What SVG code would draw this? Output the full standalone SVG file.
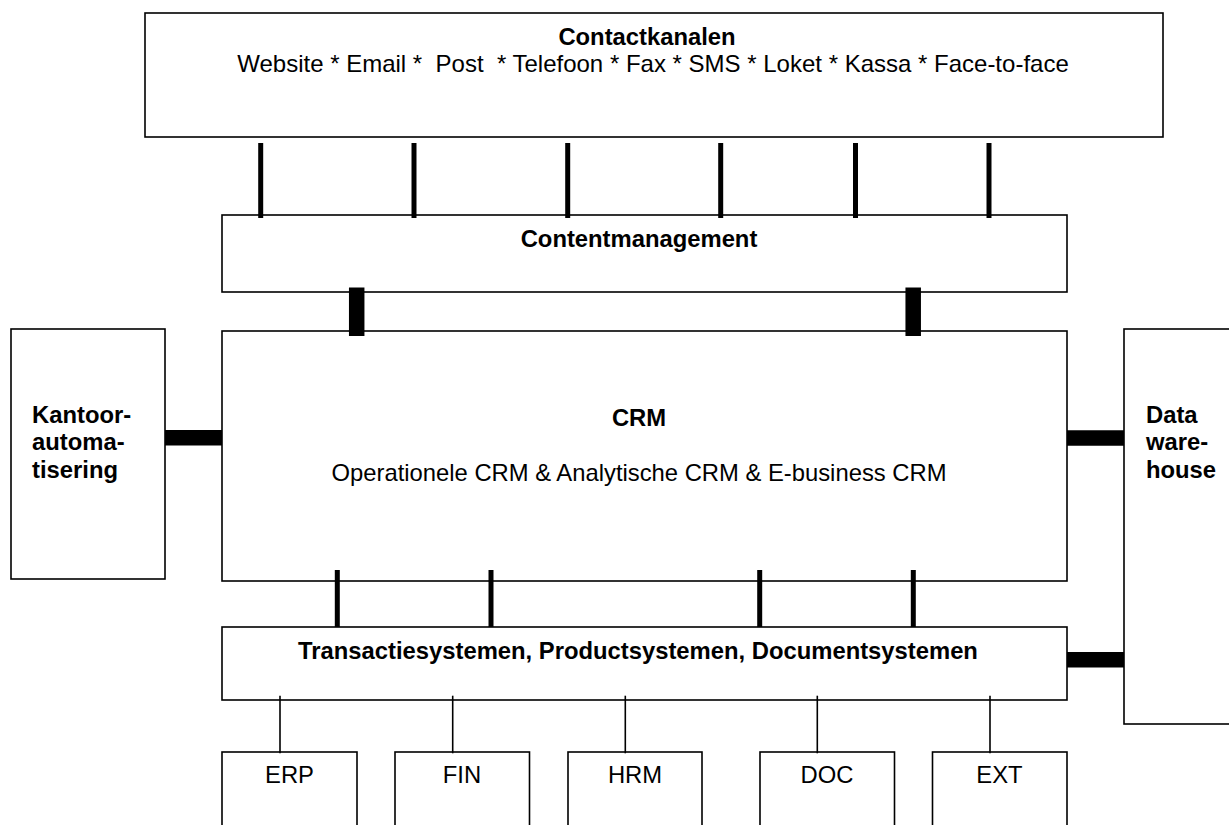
<svg xmlns="http://www.w3.org/2000/svg" width="1229" height="825" viewBox="0 0 1229 825">
<style>
.box{fill:#fff;stroke:#000;stroke-width:1.6}
.t{font-family:"Liberation Sans",Arial,Helvetica,sans-serif;font-size:23.8px;fill:#000}
.b{font-weight:bold}
.m{text-anchor:middle}
.c5{stroke:#000;stroke-width:5;fill:none}
.c15{stroke:#000;stroke-width:15.5;fill:none}
.c1{stroke:#000;stroke-width:1.6;fill:none}
</style>
<rect width="1229" height="825" fill="#fff"/>
<g id="contactkanalen">
<rect class="box" x="145" y="13" width="1018" height="124"/>
<text class="t b m" x="647" y="45">Contactkanalen</text>
<text class="t m" x="653" y="72" style="font-size:24px" xml:space="preserve">Website * Email *  Post  * Telefoon * Fax * SMS * Loket * Kassa * Face-to-face</text>
</g>
<g id="contentmanagement">
<rect class="box" x="222" y="215" width="845" height="77"/>
<text class="t b m" x="639" y="247">Contentmanagement</text>
</g>
<g id="kantoorautomatisering">
<rect class="box" x="11" y="329" width="154" height="250"/>
<text class="t b" x="32" y="423">Kantoor-</text>
<text class="t b" x="32" y="450">automa-</text>
<text class="t b" x="32" y="478">tisering</text>
</g>
<g id="crm">
<rect class="box" x="222" y="331" width="845" height="250"/>
<text class="t b m" x="639" y="426">CRM</text>
<text class="t m" x="639" y="481">Operationele CRM &amp; Analytische CRM &amp; E-business CRM</text>
</g>
<g id="datawarehouse">
<rect class="box" x="1124" y="329" width="130" height="395"/>
<text class="t b" x="1146" y="423">Data</text>
<text class="t b" x="1146" y="450">ware-</text>
<text class="t b" x="1146" y="478">house</text>
</g>
<g id="transactiesystemen">
<rect class="box" x="222" y="627" width="845" height="73"/>
<text class="t b m" x="638" y="659">Transactiesystemen, Productsystemen, Documentsystemen</text>
</g>
<g id="erp">
<rect class="box" x="222" y="752" width="135" height="100"/>
<text class="t m" x="289.5" y="783">ERP</text>
</g>
<g id="fin">
<rect class="box" x="395" y="752" width="134.5" height="100"/>
<text class="t m" x="462" y="783">FIN</text>
</g>
<g id="hrm">
<rect class="box" x="568" y="752" width="134" height="100"/>
<text class="t m" x="635" y="783">HRM</text>
</g>
<g id="doc">
<rect class="box" x="760" y="752" width="134.5" height="100"/>
<text class="t m" x="827" y="783">DOC</text>
</g>
<g id="ext">
<rect class="box" x="932.5" y="752" width="134.5" height="100"/>
<text class="t m" x="999.5" y="783">EXT</text>
</g>
<g id="connectors">
<line class="c5" x1="260.7" y1="143" x2="260.7" y2="218"/>
<line class="c5" x1="414" y1="143" x2="414" y2="218"/>
<line class="c5" x1="567.7" y1="143" x2="567.7" y2="218"/>
<line class="c5" x1="720.7" y1="143" x2="720.7" y2="218"/>
<line class="c5" x1="855.5" y1="143" x2="855.5" y2="218"/>
<line class="c5" x1="989" y1="143" x2="989" y2="218"/>
<line class="c15" x1="356.7" y1="287.5" x2="356.7" y2="336"/>
<line class="c15" x1="913.2" y1="287.5" x2="913.2" y2="336"/>
<line class="c15" x1="165" y1="437.7" x2="222" y2="437.7"/>
<line class="c15" x1="1067" y1="437.9" x2="1124" y2="437.9"/>
<line class="c15" x1="1067" y1="659.8" x2="1124" y2="659.8"/>
<line class="c5" x1="337.3" y1="570" x2="337.3" y2="627"/>
<line class="c5" x1="491" y1="570" x2="491" y2="627"/>
<line class="c5" x1="759.7" y1="570" x2="759.7" y2="627"/>
<line class="c5" x1="913.3" y1="570" x2="913.3" y2="627"/>
<line class="c1" x1="280" y1="695.7" x2="280" y2="753.3"/>
<line class="c1" x1="452.7" y1="695.7" x2="452.7" y2="753.3"/>
<line class="c1" x1="625.3" y1="695.7" x2="625.3" y2="753.3"/>
<line class="c1" x1="817.3" y1="695.7" x2="817.3" y2="753.3"/>
<line class="c1" x1="990" y1="695.7" x2="990" y2="753.3"/>
</g>
</svg>
